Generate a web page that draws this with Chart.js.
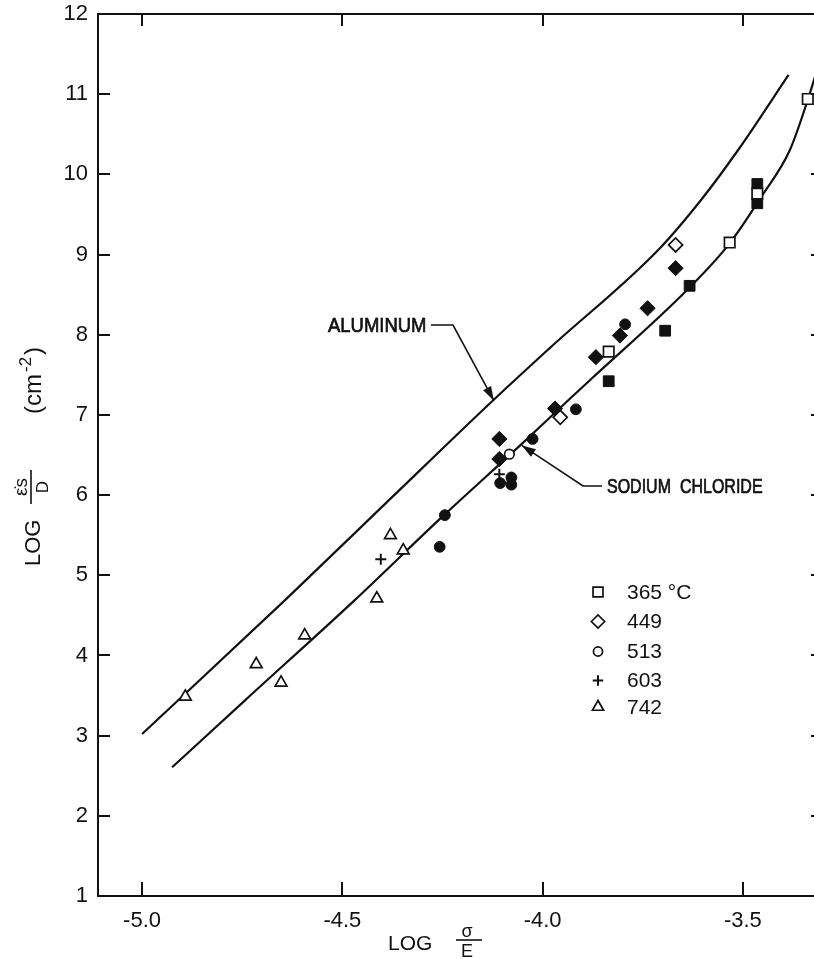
<!DOCTYPE html>
<html>
<head>
<meta charset="utf-8">
<script src="https://cdn.jsdelivr.net/npm/chart.js@4/dist/chart.umd.min.js"></script>
<style>
  html, body { margin: 0; padding: 0; background: #fff; overflow: hidden; width: 814px; height: 959px; }
  #wrap { position: absolute; left: 0; top: 0; width: 840px; height: 959px; }
</style>
</head>
<body>
<div id="wrap"><canvas id="c" width="840" height="959"></canvas></div>
<script>
// Axis ticks
const xTicks = [-5.0, -4.5, -4.0, -3.5];
const yTicks = [1, 2, 3, 4, 5, 6, 7, 8, 9, 10, 11, 12];

// Reference curves: log(strain-rate * s / D) vs log(sigma / E)
const aluminumX = [-5.000, -4.643, -4.383, -4.124, -3.983, -3.709, -3.603, -3.511, -3.386];
const aluminumY = [3.02, 4.69, 5.94, 7.18, 7.83, 9.07, 9.69, 10.31, 11.24];
const naclX = [-4.925, -4.743, -4.469, -4.257, -4.054, -3.930, -3.876, -3.635, -3.533, -3.454, -3.383, -3.338, -3.318];
const naclY = [2.605, 3.44, 4.69, 5.70, 6.63, 7.21, 7.46, 8.58, 9.14, 9.72, 10.30, 10.93, 11.25];

// Measured points, open symbols by test temperature
const legendLabels = ['365 °C', '449', '513', '603', '742'];
const t365X = [-3.835, -3.533, -3.464, -3.338];
const t365Y = [7.79, 9.15, 9.76, 10.94];
const t449X = [-3.956, -3.668];
const t449Y = [6.97, 9.12];
const t513X = [-4.083];
const t513Y = [6.51];
const t603X = [-4.404, -4.108];
const t603Y = [5.20, 6.26];
const t742X = [-4.892, -4.715, -4.653, -4.594, -4.414, -4.380, -4.348];
const t742Y = [3.485, 3.89, 3.66, 4.25, 4.71, 5.50, 5.31];

// Filled symbols
const fSquareX = [-3.835, -3.694, -3.633, -3.464, -3.464];
const fSquareY = [7.42, 8.05, 8.61, 9.88, 9.64];
const fDiamondX = [-4.108, -4.108, -3.969, -3.867, -3.807, -3.738, -3.668];
const fDiamondY = [6.70, 6.45, 7.08, 7.72, 7.99, 8.33, 8.83];
const fCircleX = [-4.257, -4.244, -4.106, -4.078, -4.078, -4.025, -3.917, -3.794];
const fCircleY = [5.355, 5.75, 6.15, 6.22, 6.13, 6.70, 7.07, 8.13];

const pts = (xs, ys) => xs.map((x, i) => ({ x: x, y: ys[i] }));
const FONT = "'Liberation Sans', Arial, sans-serif";
const INK = '#111';

const symbolStyles = [
  { pointStyle: 'rect', radius: 7.4, borderWidth: 1.7 },
  { pointStyle: 'rectRot', radius: 7, borderWidth: 1.7 },
  { pointStyle: 'circle', radius: 4.8, borderWidth: 1.7 },
  { pointStyle: 'cross', radius: 5.5, borderWidth: 2 },
  { pointStyle: 'triangle', radius: 6.8, borderWidth: 1.7 }
];
const openData = [pts(t365X, t365Y), pts(t449X, t449Y), pts(t513X, t513Y), pts(t603X, t603Y), pts(t742X, t742Y)];

const datasets = [];
openData.forEach((d, i) => {
  const s = symbolStyles[i];
  datasets.push({
    label: legendLabels[i], data: d, showLine: false,
    pointStyle: s.pointStyle, pointRadius: s.radius, pointBorderWidth: s.borderWidth,
    pointBackgroundColor: '#fff', pointBorderColor: INK
  });
});
datasets.push({ label: 'filled-square', data: pts(fSquareX, fSquareY), showLine: false,
  pointStyle: 'rect', pointRadius: 7.6, pointBorderWidth: 1, pointBackgroundColor: INK, pointBorderColor: INK });
datasets.push({ label: 'filled-diamond', data: pts(fDiamondX, fDiamondY), showLine: false,
  pointStyle: 'rectRot', pointRadius: 7.6, pointBorderWidth: 1, pointBackgroundColor: INK, pointBorderColor: INK });
datasets.push({ label: 'filled-circle', data: pts(fCircleX, fCircleY), showLine: false,
  pointStyle: 'circle', pointRadius: 5.4, pointBorderWidth: 1, pointBackgroundColor: INK, pointBorderColor: INK });
datasets.push({ label: 'ALUMINUM', data: pts(aluminumX, aluminumY), showLine: true, pointRadius: 0,
  borderColor: INK, borderWidth: 2.2, cubicInterpolationMode: 'monotone', fill: false });
datasets.push({ label: 'SODIUM CHLORIDE', data: pts(naclX, naclY), showLine: true, pointRadius: 0,
  borderColor: INK, borderWidth: 2.2, cubicInterpolationMode: 'monotone', fill: false });

// Plot frame with inward tick marks on all four sides
const framePlugin = {
  id: 'frame',
  afterDraw(chart) {
    const { ctx, chartArea: a, scales } = chart;
    ctx.save();
    ctx.strokeStyle = INK;
    ctx.lineWidth = 2;
    ctx.strokeRect(a.left, a.top, a.right - a.left, a.bottom - a.top);
    const tl = 12;
    ctx.beginPath();
    xTicks.forEach(v => {
      const px = Math.round(scales.x.getPixelForValue(v));
      ctx.moveTo(px, a.bottom); ctx.lineTo(px, a.bottom - tl - 2);
      ctx.moveTo(px, a.top); ctx.lineTo(px, a.top + tl);
    });
    yTicks.forEach(v => {
      const py = Math.round(scales.y.getPixelForValue(v));
      ctx.moveTo(a.left, py); ctx.lineTo(a.left + tl, py);
      ctx.moveTo(a.right, py); ctx.lineTo(a.right - tl, py);
    });
    ctx.stroke();
    ctx.restore();
  }
};

function arrowHead(ctx, fromX, fromY, tipX, tipY, len, half) {
  const ang = Math.atan2(tipY - fromY, tipX - fromX);
  ctx.beginPath();
  ctx.moveTo(tipX, tipY);
  ctx.lineTo(tipX - len * Math.cos(ang) + half * Math.sin(ang), tipY - len * Math.sin(ang) - half * Math.cos(ang));
  ctx.lineTo(tipX - len * Math.cos(ang) - half * Math.sin(ang), tipY - len * Math.sin(ang) + half * Math.cos(ang));
  ctx.closePath();
  ctx.fill();
}

// Lettering-style label: narrow caps with a light outline for weight
function narrowText(ctx, text, x, y, size, squeeze) {
  ctx.save();
  ctx.translate(x, y);
  ctx.scale(squeeze, 1);
  ctx.font = size + 'px ' + FONT;
  ctx.textAlign = 'left';
  ctx.textBaseline = 'middle';
  ctx.lineWidth = 0.7;
  ctx.fillText(text, 0, 0);
  ctx.strokeText(text, 0, 0);
  ctx.restore();
}

// Curve labels, axis titles and the symbol key
const labelPlugin = {
  id: 'labels',
  afterDraw(chart) {
    const { ctx, scales } = chart;
    ctx.save();
    ctx.fillStyle = INK;
    ctx.strokeStyle = INK;
    ctx.lineWidth = 1.6;

    // ALUMINUM leader
    const alTip = { x: scales.x.getPixelForValue(-4.122), y: scales.y.getPixelForValue(7.18) };
    narrowText(ctx, 'ALUMINUM', 328, 326, 20.5, 0.9);
    ctx.lineWidth = 1.6;
    ctx.beginPath();
    ctx.moveTo(431, 325); ctx.lineTo(453, 325); ctx.lineTo(alTip.x, alTip.y);
    ctx.stroke();
    arrowHead(ctx, 453, 325, alTip.x, alTip.y, 14, 4.5);

    // SODIUM CHLORIDE leader
    const naTip = { x: scales.x.getPixelForValue(-4.052), y: scales.y.getPixelForValue(6.62) };
    narrowText(ctx, 'SODIUM  CHLORIDE', 607, 487, 20, 0.8);
    ctx.lineWidth = 1.6;
    ctx.beginPath();
    ctx.moveTo(602, 486); ctx.lineTo(583, 486); ctx.lineTo(naTip.x, naTip.y);
    ctx.stroke();
    arrowHead(ctx, 583, 486, naTip.x, naTip.y, 14, 4.5);

    // x-axis title: LOG sigma/E
    ctx.textAlign = 'left';
    ctx.textBaseline = 'alphabetic';
    ctx.font = '21px ' + FONT;
    ctx.fillText('LOG', 388, 950);
    ctx.textAlign = 'center';
    ctx.font = '18px ' + FONT;
    ctx.fillText('σ', 467, 937);
    ctx.fillText('E', 467, 957);
    ctx.beginPath();
    ctx.moveTo(456, 940); ctx.lineTo(482, 940);
    ctx.stroke();

    // y-axis title, rotated: LOG (eps-dot s / D) (cm^-2)
    ctx.save();
    ctx.rotate(-Math.PI / 2);
    ctx.textAlign = 'left';
    ctx.font = '22px ' + FONT;
    ctx.fillText('LOG', -566, 40);
    ctx.textAlign = 'center';
    ctx.font = '19px ' + FONT;
    ctx.fillText('ε\u0307s', -487, 27);
    ctx.font = '17px ' + FONT;
    ctx.fillText('D', -487, 48);
    ctx.beginPath();
    ctx.moveTo(-504, 31); ctx.lineTo(-470, 31);
    ctx.stroke();
    ctx.textAlign = 'left';
    ctx.font = '24px ' + FONT;
    ctx.fillText('(cm', -414, 41);
    const w1 = ctx.measureText('(cm').width;
    ctx.font = '17px ' + FONT;
    ctx.fillText('-2', -414 + w1 + 2, 31);
    const w2 = ctx.measureText('-2').width;
    ctx.font = '24px ' + FONT;
    ctx.fillText(')', -414 + w1 + w2 + 4, 41);
    ctx.restore();

    // symbol key
    ctx.textAlign = 'left';
    ctx.textBaseline = 'middle';
    ctx.font = '21px ' + FONT;
    const rows = [592, 621.5, 651.5, 680.5, 707];
    legendLabels.forEach((lab, i) => {
      const s = symbolStyles[i];
      ctx.fillStyle = '#fff';
      ctx.strokeStyle = INK;
      ctx.lineWidth = s.borderWidth;
      Chart.helpers.drawPoint(ctx, { pointStyle: s.pointStyle, radius: s.radius * 0.95, borderWidth: s.borderWidth, rotation: 0 }, 598, rows[i]);
      ctx.fillStyle = INK;
      ctx.fillText(lab, 627, rows[i] + 1);
    });
    ctx.restore();
  }
};

new Chart(document.getElementById('c'), {
  type: 'scatter',
  data: { datasets: datasets },
  options: {
    responsive: false,
    animation: false,
    devicePixelRatio: 1,
    layout: { autoPadding: false, padding: { top: 14, right: 17, left: 0, bottom: 0 } },
    plugins: { legend: { display: false }, tooltip: { enabled: false } },
    elements: { line: { tension: 0 } },
    scales: {
      x: {
        type: 'linear', min: -5.11, max: -3.30,
        grid: { display: false, drawTicks: false }, border: { display: false },
        afterBuildTicks: s => { s.ticks = xTicks.map(v => ({ value: v })); },
        afterFit: s => { s.height = 63; s.paddingLeft = 0; s.paddingRight = 0; },
        ticks: { color: INK, padding: 12, font: { family: FONT, size: 22 },
          callback: v => Number(v).toFixed(1) }
      },
      y: {
        type: 'linear', min: 1, max: 12,
        grid: { display: false, drawTicks: false }, border: { display: false },
        afterBuildTicks: s => { s.ticks = yTicks.map(v => ({ value: v })); },
        afterFit: s => { s.width = 98; s.paddingTop = 0; s.paddingBottom = 0; },
        ticks: { color: INK, padding: 10, font: { family: FONT, size: 22 },
          callback: v => String(v) }
      }
    }
  },
  plugins: [framePlugin, labelPlugin]
});
</script>
</body>
</html>
